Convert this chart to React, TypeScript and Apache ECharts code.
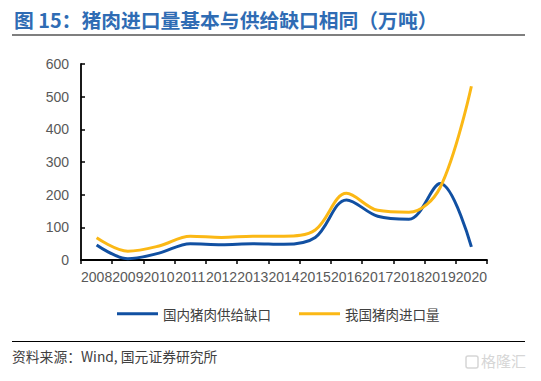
import React, { useEffect, useRef } from "react";
import * as echarts from "echarts";

const years = ["2008", "2009", "2010", "2011", "2012", "2013", "2014", "2015", "2016", "2017", "2018", "2019", "2020"];
const supplyGap = [46, 4, 21, 50, 47, 50, 48, 69, 184, 134, 125, 234, 40];
const porkImports = [68, 27, 43, 73, 69, 73, 73, 92, 204, 152, 146, 222, 532];
const yTicks = { min: 0, max: 600, interval: 100 };

const titleText = "图 15：猪肉进口量基本与供给缺口相同（万吨）";
const sourceText = "资料来源：Wind, 国元证券研究所";
const seriesNames = ["国内猪肉供给缺口", "我国猪肉进口量"];

export default function App() {
  const ref = useRef<HTMLDivElement>(null);
  useEffect(() => {
    if (!ref.current) return;
    const chart = echarts.init(ref.current, null, { renderer: "svg" });
    const labelFont = "Liberation Sans, Arial, sans-serif";
    const cjkFont = "'Noto Sans CJK SC', sans-serif";
    chart.setOption({
      animation: false,
      backgroundColor: "#ffffff",
      grid: { left: 81, right: 54, top: 64, bottom: 121, containLabel: false },
      xAxis: {
        type: "category",
        data: years,
        boundaryGap: true,
        axisLine: { lineStyle: { color: "#000", width: 1.8 } },
        axisTick: { show: true, inside: false, length: 4, lineStyle: { color: "#000", width: 1.5 } },
        axisLabel: { interval: 0, color: "#595959", fontSize: 14, fontFamily: labelFont, margin: 10 },
      },
      yAxis: {
        type: "value",
        min: yTicks.min,
        max: yTicks.max,
        interval: yTicks.interval,
        splitLine: { show: false },
        axisLine: { show: true, lineStyle: { color: "#000", width: 1.8 } },
        axisTick: { show: true, inside: true, length: 4, lineStyle: { color: "#000", width: 1.5 } },
        axisLabel: { color: "#595959", fontSize: 14, fontFamily: labelFont, margin: 12 },
      },
      legend: {
        top: 302,
        left: 112,
        icon: "rect",
        itemWidth: 41,
        itemHeight: 3,
        itemGap: 28,
        textStyle: { color: "#404040", fontSize: 13.5, fontFamily: cjkFont },
        data: seriesNames,
      },
      series: [
        {
          name: seriesNames[0],
          type: "line",
          data: supplyGap,
          smooth: 0.35,
          showSymbol: false,
          symbol: "none",
          lineStyle: { color: "#1150a2", width: 3 },
          itemStyle: { color: "#1150a2" },
        },
        {
          name: seriesNames[1],
          type: "line",
          data: porkImports,
          smooth: 0.35,
          showSymbol: false,
          symbol: "none",
          lineStyle: { color: "#fbb815", width: 3 },
          itemStyle: { color: "#fbb815" },
        },
      ],
      graphic: [
        {
          type: "text",
          left: 14,
          top: 10,
          style: { text: titleText, fill: "#2f6cb4", fontSize: 19.8, fontWeight: "bold", fontFamily: cjkFont },
        },
        { type: "line", shape: { x1: 12, y1: 35, x2: 525, y2: 35 }, style: { stroke: "#000", lineWidth: 1.2 } },
        { type: "line", shape: { x1: 12, y1: 341.5, x2: 525, y2: 341.5 }, style: { stroke: "#000", lineWidth: 1.2 } },
        {
          type: "text",
          left: 12,
          top: 349,
          style: { text: sourceText, fill: "#404040", fontSize: 13.8, fontFamily: cjkFont },
        },
        {
          type: "rect",
          shape: { x: 466, y: 356, width: 12, height: 12, r: 2 },
          style: { fill: "none", stroke: "#d6d6d6", lineWidth: 1.5 },
        },
        {
          type: "text",
          left: 481,
          top: 353,
          style: { text: "格隆汇", fill: "#d6d6d6", fontSize: 15, fontFamily: cjkFont },
        },
      ],
    });
    return () => chart.dispose();
  }, []);
  return <div ref={ref} style={{ position: "absolute", left: 0, top: 0, width: 541, height: 381 }} />;
}
